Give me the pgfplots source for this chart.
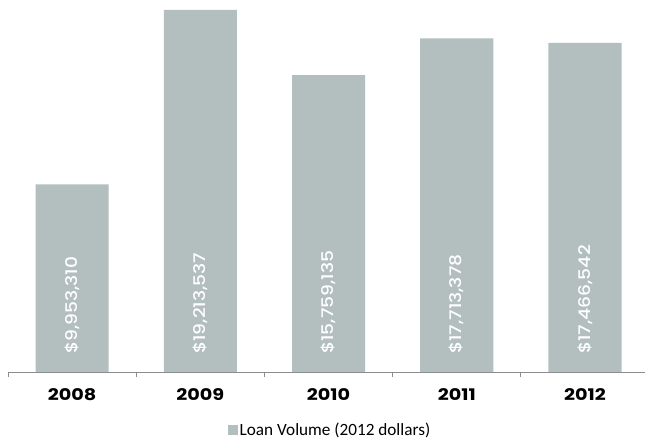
\documentclass[border=0pt]{standalone}
\usepackage{pgfplots}
\pgfplotsset{compat=1.18}
\usepackage{fontspec}
\setmainfont{Poppins}
\newfontfamily\carlito{Carlito}
\newfontfamily\valfont{Poppins}[UprightFont=* Medium, FakeStretch=1.17]
\newfontfamily\yearfont{Poppins}[UprightFont=* Bold, FakeStretch=1.2]
\definecolor{barcol}{HTML}{B3BFBE}
\definecolor{axcol}{HTML}{8C8C8C}
\begin{document}
\begin{tikzpicture}
\begin{axis}[
  scale only axis, width=637pt, height=362pt,
  xmin=-0.5, xmax=4.468, ymin=0, ymax=19213537,
  axis x line*=bottom, axis y line=none,
  x axis line style={axcol, line width=0.8pt, -},
  xtick={0,1,2,3,4}, xticklabels={2008,2009,2010,2011,2012},
  major tick length=0pt,
  extra x ticks={-0.5,0.5,1.5,2.5,3.5},
  extra x tick labels={},
  extra x tick style={major tick length=5pt, tick align=outside, tick style={draw=axcol, line width=0.8pt}},
  xticklabel style={font=\yearfont\fontsize{16}{19}\selectfont, anchor=north, inner sep=0pt, yshift=-16pt},
  legend style={at={(0.5055,-0.160)}, anchor=center, draw=none, fill=none,
    font=\carlito\fontsize{17.2}{20}\selectfont, inner sep=0pt},
  legend image code/.code={\fill[barcol] (0pt,-5pt) rectangle (10pt,5pt);},
  clip=false,
]
\addplot[ybar, fill=barcol, draw=none, bar width=0.57] coordinates {
  (0,9953310) (1,19213537) (2,15759135) (3,17713378) (4,17466542)
};
\addlegendentry{Loan Volume (2012 dollars)}
\addplot[draw=none, mark=none, forget plot, point meta=explicit symbolic,
  nodes near coords,
  nodes near coords style={rotate=90, anchor=west, inner xsep=18pt, inner ysep=0pt, text=white,
    font=\valfont\fontsize{16}{18}\selectfont}]
  table[meta=lab]{
x y lab
0 0 {\$9,953,310}
1 0 {\$19,213,537}
2 0 {\$15,759,135}
3 0 {\$17,713,378}
4 0 {\$17,466,542}
};
\end{axis}
\pgfresetboundingbox
\path ([shift={(-8pt,-68pt)}]current axis.south west) rectangle ([shift={(0pt,10pt)}]current axis.north east);
\end{tikzpicture}
\end{document}
